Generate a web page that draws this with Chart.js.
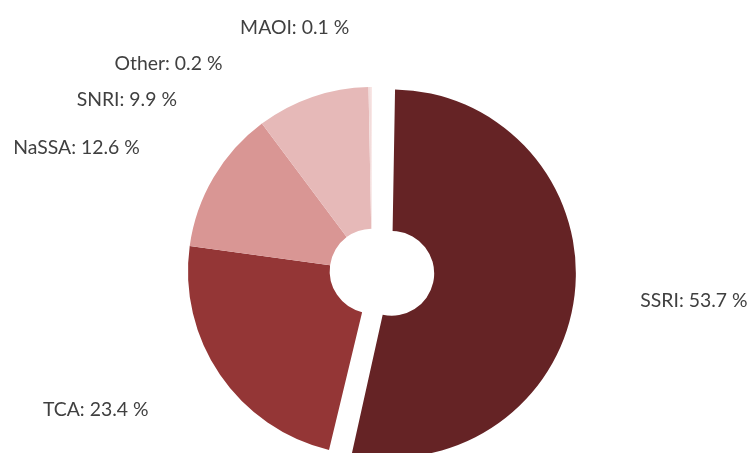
<!DOCTYPE html>
<html>
<head>
<meta charset="utf-8">
<script src="https://cdn.jsdelivr.net/npm/chart.js@4.4.0/dist/chart.umd.min.js"></script>
<style>
  html, body { margin: 0; padding: 0; background: #fff; }
  #wrap { width: 750px; height: 453px; position: relative; }
</style>
</head>
<body>
<div id="wrap"><canvas id="classChart"></canvas></div>
<script>
// antidepressant classes, share in %
const classes = ["SSRI", "TCA", "NaSSA", "SNRI", "Other", "MAOI"];
const shares = [53.7, 23.4, 12.6, 9.9, 0.2, 0.1];
const sliceColors = ["#652325", "#943636", "#d99694", "#e6b9b8", "#f2dcdb", "#f9e6e5"];

const labelSize = 19.4;
const labelColor = "#404040";

// chart.js grows an offset arc's radius too, undo that so the slice just moves out
const pullOutFix = {
    id: "pullOutFix",
    afterDatasetUpdate(chart, args) {
        args.meta.data.forEach(arc => {
            const t = (arc.options.offset || 0) / 4;
            const circ = arc.endAngle - arc.startAngle;
            const fix = 1 - Math.sin(Math.min(Math.PI, circ));
            arc.outerRadius -= t * fix;
            arc.innerRadius -= t * fix;
        });
    }
};

// outside labels, pushed apart when they pile up
const sliceLabels = {
    id: "sliceLabels",
    afterDraw(chart) {
        const ctx = chart.ctx;
        const arcs = chart.getDatasetMeta(0).data;
        if (!arcs.length) return;
        const cx = arcs[0].x, cy = arcs[0].y;
        const R = arcs[1].outerRadius + 60;
        const step = 36;

        let items = arcs.map((arc, i) => {
            const mid = (arc.startAngle + arc.endAngle) / 2;
            return {
                text: classes[i] + ": " + shares[i] + " %",
                y: cy + R * Math.sin(mid),
                right: Math.cos(mid) >= 0
            };
        });

        [true, false].forEach(side => {
            const group = items.filter(it => it.right === side).sort((a, b) => a.y - b.y);
            for (let k = 1; k < group.length; k++) {
                if (group[k].y < group[k - 1].y + step) group[k].y = group[k - 1].y + step;
            }
        });

        ctx.save();
        ctx.font = labelSize + "px Lato";
        ctx.fillStyle = labelColor;
        ctx.textBaseline = "alphabetic";
        items.forEach(it => {
            const dy = Math.max(-R, Math.min(R, it.y - cy));
            const dx = Math.sqrt(R * R - dy * dy);
            const baseY = it.y + labelSize * 0.36;
            if (it.right) {
                ctx.textAlign = "left";
                ctx.fillText(it.text, cx + dx + 26, baseY);
            } else {
                ctx.textAlign = "right";
                ctx.fillText(it.text, cx - dx - 22, baseY);
            }
        });
        ctx.restore();
    }
};

const ctx = document.getElementById("classChart").getContext("2d");
const classChart = new Chart(ctx, {
    type: "doughnut",
    data: {
        labels: classes,
        datasets: [{
            data: shares,
            backgroundColor: sliceColors,
            borderWidth: 0,
            offset: [80, 0, 0, 0, 0, 0]
        }]
    },
    options: {
        responsive: true,
        maintainAspectRatio: false,
        animation: false,
        cutout: "23%",
        radius: 184,
        layout: {
            padding: { left: 0, right: 6, top: 89, bottom: 0 }
        },
        plugins: {
            legend: { display: false },
            tooltip: { enabled: false }
        }
    },
    plugins: [pullOutFix, sliceLabels]
});
</script>
</body>
</html>
